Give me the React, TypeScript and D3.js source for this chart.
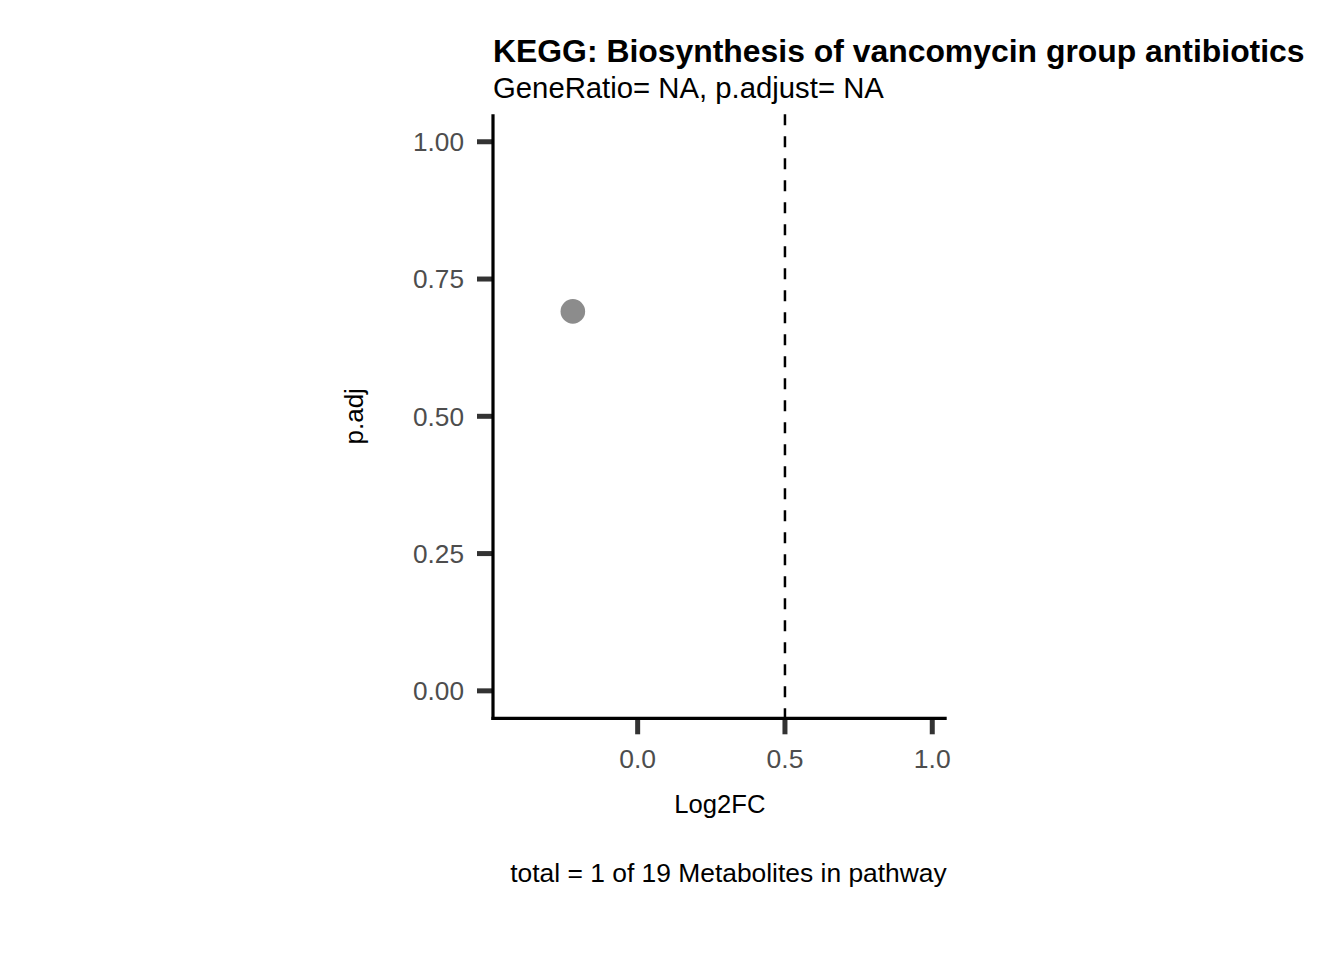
import React from "react";
import * as d3 from "d3";

// ---- data ----
const titleText = "KEGG: Biosynthesis of vancomycin group antibiotics";
const subtitleText = "GeneRatio= NA, p.adjust= NA";
const captionText = "total = 1 of 19 Metabolites in pathway";
const xLabel = "Log2FC";
const yLabel = "p.adj";
const log2fc = [-0.22];
const padj = [0.691];
const xTicks = [0, 0.5, 1.0];
const yTicks = [0, 0.25, 0.5, 0.75, 1.0];
const thresholdX = [0.5];
const xDomain = [-0.491, 1.049];
const yDomain = [-0.05, 1.05];

const W = 1344;
const H = 960;
const panel = { left: 493, right: 946.7, top: 114.3, bottom: 718.3 };
const FONT = "'Liberation Sans', Arial, Helvetica, sans-serif";

export default function App() {
  const x = d3.scaleLinear().domain(xDomain).range([panel.left, panel.right]);
  const y = d3.scaleLinear().domain(yDomain).range([panel.bottom, panel.top]);
  const fmtX = d3.format(".1f");
  const fmtY = d3.format(".2f");
  const points = log2fc.map((v, i) => ({ x: v, y: padj[i] }));

  return (
    <>
      <style>{`body{margin:0;}`}</style>
      <svg width={W} height={H} style={{ display: "block", background: "#fff" }} fontFamily={FONT}>
        <rect x={0} y={0} width={W} height={H} fill="#fff" />
        {/* title */}
        <text x={panel.left} y={61.5} fontSize={31.9} fontWeight="bold" fill="#000">
          {titleText}
        </text>
        <text x={panel.left} y={97.5} fontSize={29.3} fill="#000">
          {subtitleText}
        </text>

        {/* threshold line */}
        {thresholdX.map((t, i) => (
          <line
            key={i}
            x1={x(t)}
            x2={x(t)}
            y1={panel.top}
            y2={panel.bottom}
            stroke="#000"
            strokeWidth={2.5}
            strokeDasharray="11 11"
          />
        ))}

        {/* points */}
        {points.map((p, i) => (
          <circle key={i} cx={x(p.x)} cy={y(p.y)} r={12.3} fill="#8c8c8c" />
        ))}

        {/* y axis */}
        {yTicks.map((t) => (
          <g key={"y" + t}>
            <line x1={panel.left - 16} x2={panel.left} y1={y(t)} y2={y(t)} stroke="#333" strokeWidth={5} />
            <text
              x={panel.left - 29}
              y={y(t) + 9.4}
              textAnchor="end"
              fontSize={26.2}
              fill="#4d4d4d"
            >
              {fmtY(t)}
            </text>
          </g>
        ))}
        {/* x axis */}
        {xTicks.map((t) => (
          <g key={"x" + t}>
            <line x1={x(t)} x2={x(t)} y1={panel.bottom} y2={panel.bottom + 16} stroke="#333" strokeWidth={5} />
            <text x={x(t)} y={768} textAnchor="middle" fontSize={26.5} fill="#4d4d4d">
              {fmtX(t)}
            </text>
          </g>
        ))}
        <line x1={panel.left} x2={panel.left} y1={panel.top} y2={panel.bottom + 1.6} stroke="#000" strokeWidth={3.2} />
        <line x1={panel.left - 1.6} x2={panel.right} y1={panel.bottom} y2={panel.bottom} stroke="#000" strokeWidth={3.2} />

        {/* axis titles */}
        <text x={(panel.left + panel.right) / 2} y={813} textAnchor="middle" fontSize={25.6} fill="#000">
          {xLabel}
        </text>
        <text
          transform={`translate(363, ${(panel.top + panel.bottom) / 2}) rotate(-90)`}
          textAnchor="middle"
          fontSize={26}
          fill="#000"
        >
          {yLabel}
        </text>

        {/* caption */}
        <text x={panel.right} y={882} textAnchor="end" fontSize={26.4} fill="#000">
          {captionText}
        </text>
      </svg>
    </>
  );
}
